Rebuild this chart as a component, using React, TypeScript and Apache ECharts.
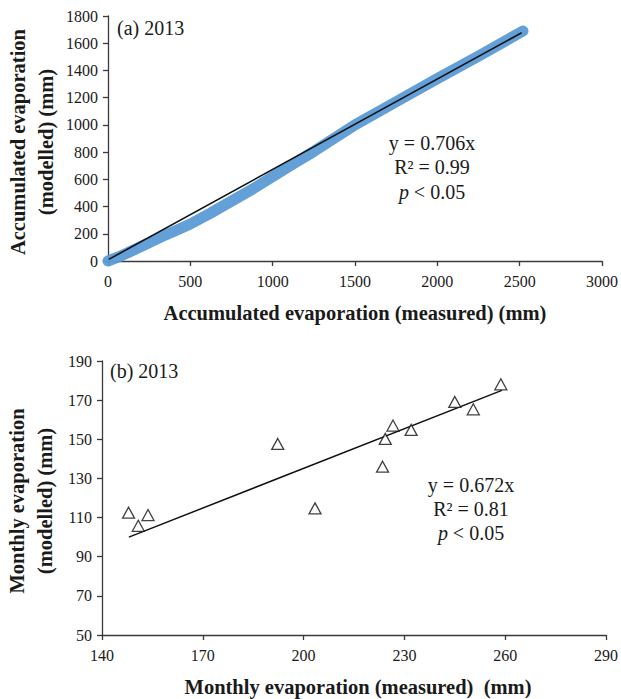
import React, { useEffect, useRef } from "react";
import * as echarts from "echarts";

// (a) accumulated evaporation 2013
const accMeasured = [0, 60, 120, 220, 325, 420, 500, 620, 750, 880, 1000, 1120, 1250, 1500, 1750, 2000, 2250, 2520];
const accModelled = [0, 28, 60, 118, 178, 228, 272, 350, 440, 530, 620, 710, 805, 1000, 1170, 1340, 1505, 1690];
const fitAX = [5, 2512];
const fitAY = [12, 1677];

// (b) monthly evaporation 2013
const monthlyMeasured = [147.9, 150.8, 153.7, 192.3, 203.4, 223.5, 224.3, 226.6, 232.0, 245.0, 250.5, 258.7];
const monthlyModelled = [112.5, 105.8, 111.3, 147.6, 114.7, 136.0, 150.2, 157.0, 154.8, 169.1, 165.3, 178.1];
const fitBX = [148, 259];
const fitBY = [100, 175];

const ticksAX = [0, 3000, 500];
const ticksAY = [0, 1800, 200];
const ticksBX = [140, 290, 30];
const ticksBY = [50, 190, 20];

const SERIF = "Liberation Serif";
const AXIS_COLOR = "#3a3a3a";
const TEXT_COLOR = "#1a1a1a";

export default function App() {
  const ref = useRef<HTMLDivElement>(null);
  useEffect(() => {
    if (!ref.current) return;
    const chart = echarts.init(ref.current, undefined, { renderer: "svg" });

    const bx0 = ticksBX[0];
    const by0 = ticksBY[0];

    const axisCommon = {
      type: "value",
      splitLine: { show: false },
      axisLine: { show: true, onZero: false, lineStyle: { color: AXIS_COLOR, width: 1.3 } },
      axisTick: { show: true, inside: false, length: 5, lineStyle: { color: AXIS_COLOR, width: 1.3 } },
    };
    const labelCommon = { color: TEXT_COLOR, fontFamily: SERIF, fontSize: 16, fontWeight: "normal" };

    const text = (x: number, y: number, t: string, opts: any = {}) => ({
      type: "text",
      x,
      y,
      rotation: opts.rotation || 0,
      style: {
        text: t,
        fill: TEXT_COLOR,
        fontFamily: SERIF,
        fontSize: opts.fontSize || 20,
        fontWeight: opts.bold ? "bold" : "normal",
        align: opts.align || "center",
        verticalAlign: "middle",
        rich: {
          i: { fontStyle: "italic", fontFamily: SERIF, fontSize: opts.fontSize || 20, fill: TEXT_COLOR },
        },
      },
    });

    chart.setOption({
      animation: false,
      backgroundColor: "#ffffff",
      textStyle: { fontFamily: SERIF },
      grid: [
        { left: 108, top: 16, width: 495, height: 245, containLabel: false },
        { left: 102, top: 361, width: 513, height: 274, containLabel: false },
      ],
      xAxis: [
        {
          ...axisCommon,
          gridIndex: 0,
          min: ticksAX[0],
          max: ticksAX[1],
          interval: ticksAX[2],
          axisLabel: { ...labelCommon, margin: 12, formatter: (v: number) => String(v) },
        },
        {
          ...axisCommon,
          gridIndex: 1,
          min: 0,
          max: ticksBX[1] - bx0,
          interval: ticksBX[2],
          axisLabel: { ...labelCommon, margin: 12, formatter: (v: number) => String(v + bx0) },
        },
      ],
      yAxis: [
        {
          ...axisCommon,
          gridIndex: 0,
          min: ticksAY[0],
          max: ticksAY[1],
          interval: ticksAY[2],
          axisLabel: { ...labelCommon, margin: 10, formatter: (v: number) => String(v) },
        },
        {
          ...axisCommon,
          gridIndex: 1,
          min: 0,
          max: ticksBY[1] - by0,
          interval: ticksBY[2],
          axisLabel: { ...labelCommon, margin: 10, formatter: (v: number) => String(v + by0) },
        },
      ],
      series: [
        {
          type: "line",
          xAxisIndex: 0,
          yAxisIndex: 0,
          data: accMeasured.map((x, i) => [x, accModelled[i]]),
          showSymbol: false,
          symbol: "none",
          clip: false,
          lineStyle: { color: "#5b9bd5", width: 11, cap: "round", join: "round", opacity: 0.95 },
          z: 2,
        },
        {
          type: "line",
          xAxisIndex: 0,
          yAxisIndex: 0,
          data: fitAX.map((x, i) => [x, fitAY[i]]),
          showSymbol: false,
          symbol: "none",
          lineStyle: { color: "#111111", width: 1.6 },
          z: 3,
        },
        {
          type: "line",
          xAxisIndex: 1,
          yAxisIndex: 1,
          data: fitBX.map((x, i) => [x - bx0, fitBY[i] - by0]),
          showSymbol: false,
          symbol: "none",
          lineStyle: { color: "#111111", width: 1.5 },
          z: 2,
        },
        {
          type: "scatter",
          xAxisIndex: 1,
          yAxisIndex: 1,
          data: monthlyMeasured.map((x, i) => [x - bx0, monthlyModelled[i] - by0]),
          symbol: "triangle",
          symbolSize: [12, 11],
          itemStyle: { color: "#ffffff", borderColor: "#111111", borderWidth: 1.3 },
          z: 3,
        },
      ],
      graphic: [
        text(117, 28, "(a) 2013", { align: "left" }),
        text(432, 143, "y = 0.706x"),
        text(432, 167, "R² = 0.99"),
        text(432, 192, "{i|p} < 0.05"),
        text(355, 313, "Accumulated evaporation (measured) (mm)", { bold: true, fontSize: 20.5 }),
        text(18, 142, "Accumulated evaporation", { bold: true, fontSize: 20.5, rotation: Math.PI / 2 }),
        text(46, 142, "(modelled) (mm)", { bold: true, fontSize: 20.5, rotation: Math.PI / 2 }),

        text(110, 371, "(b) 2013", { align: "left" }),
        text(471, 485, "y = 0.672x"),
        text(471, 509, "R² = 0.81"),
        text(471, 533, "{i|p} < 0.05"),
        text(358, 687, "Monthly evaporation (measured)  (mm)", { bold: true, fontSize: 20.5 }),
        text(17, 501, "Monthly evaporation", { bold: true, fontSize: 20.5, rotation: Math.PI / 2 }),
        text(45, 501, "(modelled) (mm)", { bold: true, fontSize: 20.5, rotation: Math.PI / 2 }),
      ],
    });

    return () => chart.dispose();
  }, []);

  return (
    <div
      ref={ref}
      style={{ position: "absolute", left: 0, top: 0, width: 621, height: 699, background: "#fff" }}
    />
  );
}
